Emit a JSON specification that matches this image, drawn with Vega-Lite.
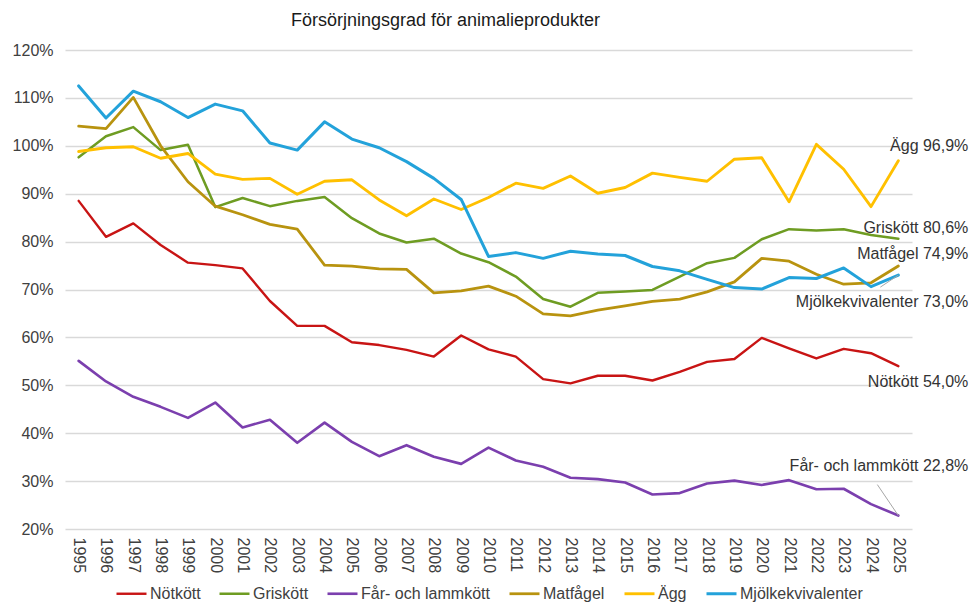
{
  "$schema": "https://vega.github.io/schema/vega-lite/v6.json",
  "width": 847,
  "height": 479,
  "autosize": {"type": "none"},
  "padding": {"left": 65, "top": 50, "right": 58, "bottom": 76},
  "background": "white",
  "config": {"font": "Liberation Sans", "view": {"stroke": null}},
  "title": {"text": "Försörjningsgrad för animalieprodukter", "fontSize": 18, "fontWeight": "normal", "color": "#1a1a1a", "anchor": "middle", "frame": "group", "dx": -43, "offset": 12, "font": "Liberation Sans"},
  "data": {"values": [
    {"year": 1995, "Nötkött": 88.5, "Griskött": 97.6, "Får- och lammkött": 55.1, "Matfågel": 104.1, "Ägg": 98.8, "Mjölkekvivalenter": 112.5},
    {"year": 1996, "Nötkött": 81.0, "Griskött": 102.0, "Får- och lammkött": 50.8, "Matfågel": 103.6, "Ägg": 99.6, "Mjölkekvivalenter": 105.8},
    {"year": 1997, "Nötkött": 83.8, "Griskött": 103.9, "Får- och lammkött": 47.6, "Matfågel": 110.1, "Ägg": 99.8, "Mjölkekvivalenter": 111.4},
    {"year": 1998, "Nötkött": 79.3, "Griskött": 99.1, "Får- och lammkött": 45.5, "Matfågel": 100.0, "Ägg": 97.4, "Mjölkekvivalenter": 109.2},
    {"year": 1999, "Nötkött": 75.6, "Griskött": 100.2, "Får- och lammkött": 43.2, "Matfågel": 92.5, "Ägg": 98.4, "Mjölkekvivalenter": 105.9},
    {"year": 2000, "Nötkött": 75.1, "Griskött": 87.2, "Får- och lammkött": 46.4, "Matfågel": 87.4, "Ägg": 94.1, "Mjölkekvivalenter": 108.7},
    {"year": 2001, "Nötkött": 74.4, "Griskött": 89.1, "Får- och lammkött": 41.2, "Matfågel": 85.6, "Ägg": 93.0, "Mjölkekvivalenter": 107.3},
    {"year": 2002, "Nötkött": 67.6, "Griskött": 87.4, "Får- och lammkött": 42.8, "Matfågel": 83.6, "Ägg": 93.2, "Mjölkekvivalenter": 100.6},
    {"year": 2003, "Nötkött": 62.4, "Griskött": 88.5, "Får- och lammkött": 38.0, "Matfågel": 82.6, "Ägg": 89.9, "Mjölkekvivalenter": 99.1},
    {"year": 2004, "Nötkött": 62.4, "Griskött": 89.3, "Får- och lammkött": 42.2, "Matfågel": 75.1, "Ägg": 92.6, "Mjölkekvivalenter": 105.0},
    {"year": 2005, "Nötkött": 59.0, "Griskött": 84.9, "Får- och lammkött": 38.2, "Matfågel": 74.9, "Ägg": 92.9, "Mjölkekvivalenter": 101.4},
    {"year": 2006, "Nötkött": 58.4, "Griskött": 81.7, "Får- och lammkött": 35.2, "Matfågel": 74.3, "Ägg": 88.7, "Mjölkekvivalenter": 99.6},
    {"year": 2007, "Nötkött": 57.4, "Griskött": 79.8, "Får- och lammkött": 37.5, "Matfågel": 74.2, "Ägg": 85.4, "Mjölkekvivalenter": 96.7},
    {"year": 2008, "Nötkött": 56.0, "Griskött": 80.6, "Får- och lammkött": 35.1, "Matfågel": 69.3, "Ägg": 88.9, "Mjölkekvivalenter": 93.2},
    {"year": 2009, "Nötkött": 60.4, "Griskött": 77.5, "Får- och lammkött": 33.6, "Matfågel": 69.7, "Ägg": 86.7, "Mjölkekvivalenter": 88.8},
    {"year": 2010, "Nötkött": 57.5, "Griskött": 75.7, "Får- och lammkött": 37.0, "Matfågel": 70.7, "Ägg": 89.2, "Mjölkekvivalenter": 76.9},
    {"year": 2011, "Nötkött": 56.0, "Griskött": 72.7, "Får- och lammkött": 34.3, "Matfågel": 68.6, "Ägg": 92.2, "Mjölkekvivalenter": 77.7},
    {"year": 2012, "Nötkött": 51.3, "Griskött": 68.0, "Får- och lammkött": 33.0, "Matfågel": 64.9, "Ägg": 91.1, "Mjölkekvivalenter": 76.5},
    {"year": 2013, "Nötkött": 50.4, "Griskött": 66.4, "Får- och lammkött": 30.7, "Matfågel": 64.5, "Ägg": 93.7, "Mjölkekvivalenter": 78.0},
    {"year": 2014, "Nötkött": 52.0, "Griskött": 69.3, "Får- och lammkött": 30.4, "Matfågel": 65.7, "Ägg": 90.1, "Mjölkekvivalenter": 77.4},
    {"year": 2015, "Nötkött": 52.0, "Griskött": 69.6, "Får- och lammkött": 29.7, "Matfågel": 66.6, "Ägg": 91.3, "Mjölkekvivalenter": 77.1},
    {"year": 2016, "Nötkött": 51.0, "Griskött": 69.9, "Får- och lammkött": 27.2, "Matfågel": 67.5, "Ägg": 94.3, "Mjölkekvivalenter": 74.8},
    {"year": 2017, "Nötkött": 52.8, "Griskött": 72.7, "Får- och lammkött": 27.5, "Matfågel": 68.0, "Ägg": 93.4, "Mjölkekvivalenter": 73.9},
    {"year": 2018, "Nötkött": 54.9, "Griskött": 75.5, "Får- och lammkött": 29.5, "Matfågel": 69.5, "Ägg": 92.6, "Mjölkekvivalenter": 72.1},
    {"year": 2019, "Nötkött": 55.5, "Griskött": 76.6, "Får- och lammkött": 30.1, "Matfågel": 71.6, "Ägg": 97.2, "Mjölkekvivalenter": 70.4},
    {"year": 2020, "Nötkött": 59.9, "Griskött": 80.5, "Får- och lammkött": 29.2, "Matfågel": 76.5, "Ägg": 97.5, "Mjölkekvivalenter": 70.1},
    {"year": 2021, "Nötkött": 57.7, "Griskött": 82.6, "Får- och lammkött": 30.2, "Matfågel": 75.9, "Ägg": 88.3, "Mjölkekvivalenter": 72.5},
    {"year": 2022, "Nötkött": 55.6, "Griskött": 82.3, "Får- och lammkött": 28.3, "Matfågel": 73.2, "Ägg": 100.3, "Mjölkekvivalenter": 72.3},
    {"year": 2023, "Nötkött": 57.6, "Griskött": 82.6, "Får- och lammkött": 28.4, "Matfågel": 71.1, "Ägg": 95.1, "Mjölkekvivalenter": 74.5},
    {"year": 2024, "Nötkött": 56.7, "Griskött": 81.4, "Får- och lammkött": 25.2, "Matfågel": 71.4, "Ägg": 87.3, "Mjölkekvivalenter": 70.6},
    {"year": 2025, "Nötkött": 54.0, "Griskött": 80.6, "Får- och lammkött": 22.8, "Matfågel": 74.9, "Ägg": 96.9, "Mjölkekvivalenter": 73.0}
  ]},
  "transform": [
    {"fold": ["Nötkött", "Griskött", "Får- och lammkött", "Matfågel", "Ägg", "Mjölkekvivalenter"], "as": ["series", "value"]}
  ],
  "encoding": {
    "x": {"field": "year", "type": "ordinal", "scale": {"type": "point", "padding": 0.5},
      "axis": {"title": null, "labelAngle": 90, "labelFontSize": 16, "labelColor": "#404040", "labelPadding": 8, "ticks": false, "domain": false, "grid": false}},
    "y": {"field": "value", "type": "quantitative", "scale": {"domain": [20, 120], "nice": false, "zero": false},
      "axis": {"title": null, "values": [20, 30, 40, 50, 60, 70, 80, 90, 100, 110, 120], "labelExpr": "datum.value + '%'", "labelFontSize": 16, "labelColor": "#404040", "labelPadding": 12, "ticks": false, "domain": false, "gridColor": "#D9D9D9", "gridWidth": 1.5}}
  },
  "layer": [
    {
      "mark": {"type": "line", "strokeJoin": "round", "strokeCap": "round"},
      "encoding": {
        "color": {"field": "series", "type": "nominal",
          "scale": {"domain": ["Nötkött", "Griskött", "Får- och lammkött", "Matfågel", "Ägg", "Mjölkekvivalenter"],
                    "range": ["#C81414", "#6E9C22", "#7B3FAE", "#B8930F", "#FFC000", "#23A2DA"]},
          "legend": {"title": null, "orient": "none", "legendX": 50, "legendY": 527, "direction": "horizontal", "symbolType": "stroke", "symbolSize": 900, "symbolStrokeWidth": 3, "labelFontSize": 16, "labelColor": "#404040", "labelOffset": 2, "columnPadding": 13}},
        "strokeWidth": {"field": "series", "type": "nominal",
          "scale": {"domain": ["Nötkött", "Griskött", "Får- och lammkött", "Matfågel", "Ägg", "Mjölkekvivalenter"], "range": [2.4, 3, 2.4, 3, 3, 3]},
          "legend": null}
      }
    },
    {"transform": [{"filter": "datum.year == 2025 && datum.series == 'Får- och lammkött'"}],
     "mark": {"type": "rule", "color": "#A6A6A6", "strokeWidth": 1, "x2Offset": -21, "y2Offset": -31},
     "encoding": {"x2": {"field": "year"}, "y2": {"field": "value"}}},
    {"transform": [{"filter": "datum.year == 2025 && datum.series == 'Mjölkekvivalenter'"}],
     "mark": {"type": "rule", "color": "#A6A6A6", "strokeWidth": 1, "x2Offset": -18, "y2Offset": 12},
     "encoding": {"x2": {"field": "year"}, "y2": {"field": "value"}}},
    {"transform": [{"filter": "datum.year == 2025 && datum.series == 'Ägg'"}],
     "mark": {"type": "text", "text": "Ägg 96,9%", "align": "right", "baseline": "middle", "dx": 70, "dy": -15, "fontSize": 16, "color": "#333333"}},
    {"transform": [{"filter": "datum.year == 2025 && datum.series == 'Griskött'"}],
     "mark": {"type": "text", "text": "Griskött 80,6%", "align": "right", "baseline": "middle", "dx": 70, "dy": -11, "fontSize": 16, "color": "#333333"}},
    {"transform": [{"filter": "datum.year == 2025 && datum.series == 'Matfågel'"}],
     "mark": {"type": "text", "text": "Matfågel 74,9%", "align": "right", "baseline": "middle", "dx": 70, "dy": -12, "fontSize": 16, "color": "#333333"}},
    {"transform": [{"filter": "datum.year == 2025 && datum.series == 'Mjölkekvivalenter'"}],
     "mark": {"type": "text", "text": "Mjölkekvivalenter 73,0%", "align": "right", "baseline": "middle", "dx": 70, "dy": 27, "fontSize": 16, "color": "#333333"}},
    {"transform": [{"filter": "datum.year == 2025 && datum.series == 'Nötkött'"}],
     "mark": {"type": "text", "text": "Nötkött 54,0%", "align": "right", "baseline": "middle", "dx": 70, "dy": 16, "fontSize": 16, "color": "#333333"}},
    {"transform": [{"filter": "datum.year == 2025 && datum.series == 'Får- och lammkött'"}],
     "mark": {"type": "text", "text": "Får- och lammkött 22,8%", "align": "right", "baseline": "middle", "dx": 70, "dy": -50, "fontSize": 16, "color": "#333333"}}
  ]
}
